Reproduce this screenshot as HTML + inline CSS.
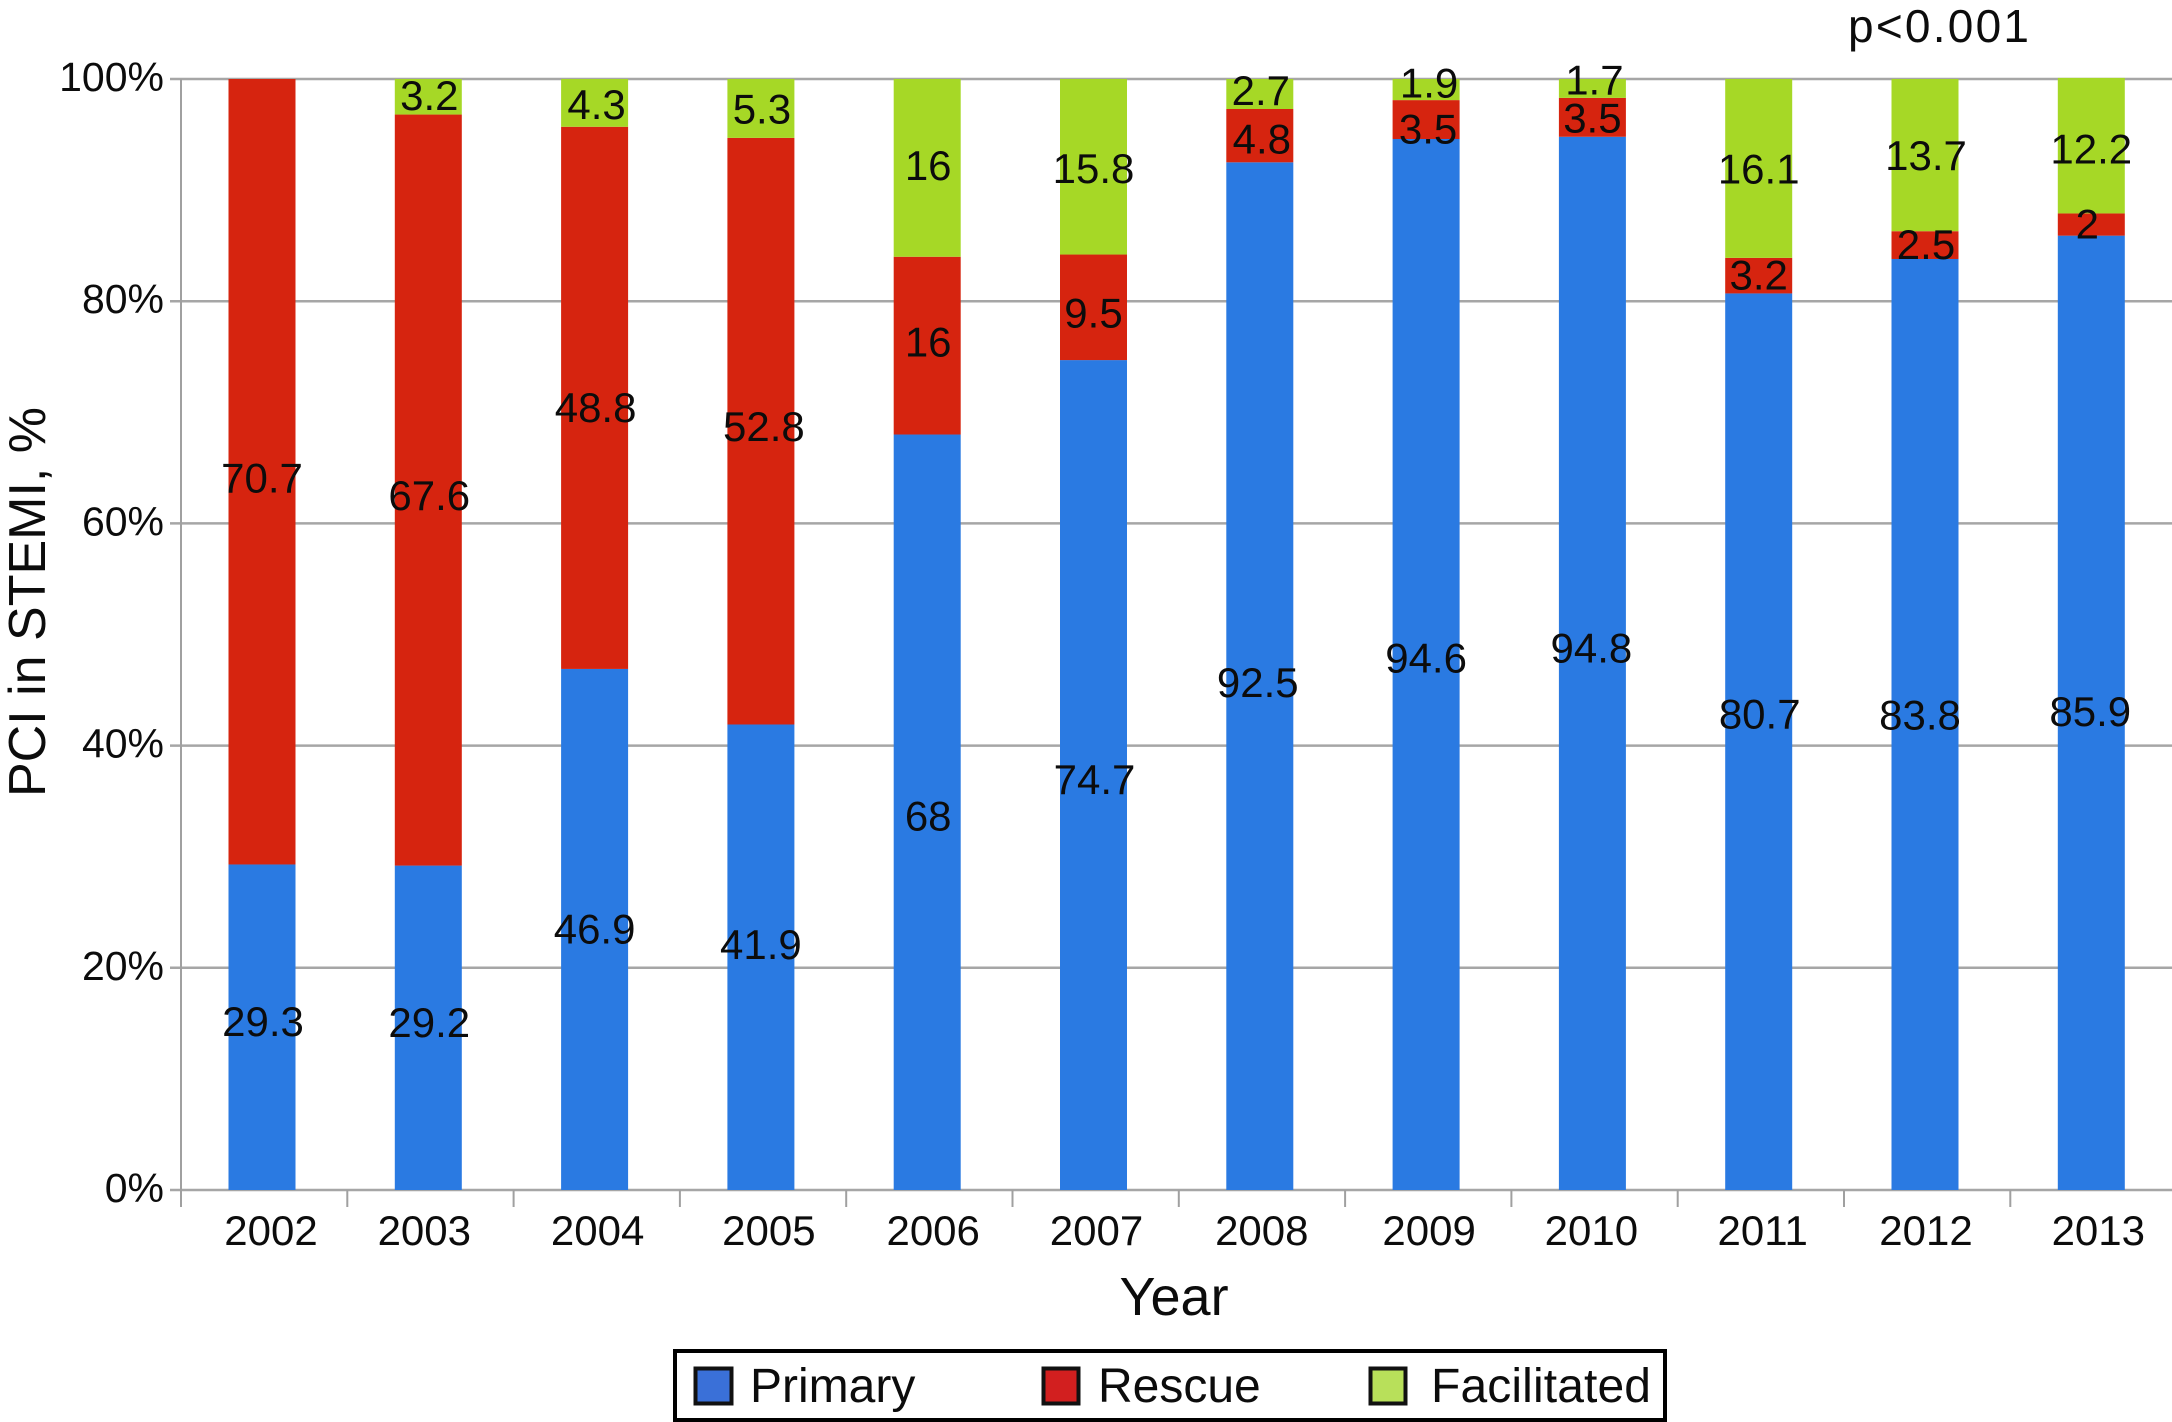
<!DOCTYPE html>
<html lang="en">
<head>
<meta charset="utf-8">
<title>PCI in STEMI by year</title>
<style>
  html, body { margin: 0; padding: 0; background: #fff; }
  svg { display: block; }
  text { font-family: "Liberation Sans", Arial, sans-serif; fill: #0c0c0c; }
</style>
</head>
<body>
<svg id="chart" xmlns="http://www.w3.org/2000/svg" width="2172" height="1422" viewBox="0 0 2172 1422">
  <rect x="0" y="0" width="2172" height="1422" fill="#ffffff"/>
  <g id="grid"></g>
  <g id="axes"></g>
  <g id="bars"></g>
  <g id="labels"></g>

  <text transform="translate(45 602) rotate(-90)" text-anchor="middle" font-size="52">PCI in STEMI, %</text>
  <text x="1174" y="1315" text-anchor="middle" font-size="54">Year</text>
  <text x="1848" y="42" font-size="46" textLength="181" lengthAdjust="spacing">p&lt;0.001</text>

  <g>
    <rect x="675" y="1351" width="990" height="69" fill="#ffffff" stroke="#000000" stroke-width="4"/>
    <rect x="695.5" y="1368.5" width="36" height="35" fill="#3a70d8" stroke="#111111" stroke-width="4"/>
    <text x="750" y="1402" font-size="48">Primary</text>
    <rect x="1043.5" y="1368.5" width="35" height="35" fill="#d21f1f" stroke="#111111" stroke-width="4"/>
    <text x="1098" y="1402" font-size="48">Rescue</text>
    <rect x="1370.5" y="1368.5" width="35" height="35" fill="#b8e05a" stroke="#111111" stroke-width="4"/>
    <text x="1431" y="1402" font-size="48" textLength="220" lengthAdjust="spacing">Facilitated</text>
  </g>
</svg>

<script>
// ---- chart data ----
const categories = ["2002","2003","2004","2005","2006","2007","2008","2009","2010","2011","2012","2013"];
const primaryValues = [29.3,29.2,46.9,41.9,68,74.7,92.5,94.6,94.8,80.7,83.8,85.9];
const rescueValues = [70.7,67.6,48.8,52.8,16,9.5,4.8,3.5,3.5,3.2,2.5,2];
const facilitatedValues = [0,3.2,4.3,5.3,16,15.8,2.7,1.9,1.7,16.1,13.7,12.2];
const yTickValues = [0,20,40,60,80,100];

// ---- layout (not data): hand-placed label offsets seen in the figure ----
const primaryLabelShift = [-5,-5,0,-12,4,5,7,-6,-15,-27,-9,-1];
const rescueLabelShift = [7,6,10,-4,-3,6,4,10,1,0,0,0];
const facilitatedLabelShift = [0,-1,2,1,-2,2,-3,-6,-8,1,1,4];
const primaryLabelShiftX = [1,1,0,0,1,1,-2,0,-1,1,-5,-1];
const rescueLabelShiftX = [0,1,1,3,1,0,2,2,0,0,1,-4];
const facilitatedLabelShiftX = [0,1,2,1,1,0,1,3,2,0,1,0];
const yearLabelShift = [9,-4,3,8,6,3,2,3,-1,4,1,7];

const SVG_NS = "http://www.w3.org/2000/svg";
const plotLeft = 181, plotBottom = 1190, plotTop = 79, plotRight = 2172;
const firstBarCenter = 262, barStep = 166.3, barWidth = 67;

function xCenter(i) { return firstBarCenter + i * barStep; }
function yScale(v) { return plotBottom - (v / 100) * (plotBottom - plotTop); }

function make(tag, props, parent) {
  const el = document.createElementNS(SVG_NS, tag);
  for (const k in props) el.setAttribute(k, props[k]);
  parent.appendChild(el);
  return el;
}

const gridG = document.getElementById("grid");
const axesG = document.getElementById("axes");
const barsG = document.getElementById("bars");
const labelsG = document.getElementById("labels");

// gridlines and y ticks
yTickValues.forEach(function (v) {
  const y = yScale(v);
  const line = make("line", { x1: 170, x2: plotRight, y1: y, y2: y, stroke: "#a6a6a6", "stroke-width": 2.5 }, gridG);
  
  
  const label = make("text", { x: 164, y: y + 12, "text-anchor": "end", "font-size": 41 }, axesG);
  label.textContent = v + "%";
  
  
});

// y axis line
const yAxis = make("line", { x1: plotLeft, x2: plotLeft, y1: plotTop, y2: plotBottom + 17, stroke: "#a0a0a0", "stroke-width": 2 }, axesG);



// x ticks and year labels
categories.forEach(function (c, i) {
  const tickX = plotLeft + (i + 1) * barStep;
  const tick = make("line", { x1: tickX, x2: tickX, y1: plotBottom, y2: plotBottom + 17, stroke: "#a0a0a0", "stroke-width": 2 }, axesG);
  
  
  const label = make("text", { x: xCenter(i) + yearLabelShift[i], y: 1245, "text-anchor": "middle", "font-size": 42 }, axesG);
  label.textContent = c;
  
  
});

// stacked bars and value labels
const seriesNames = ["primary", "rescue", "facilitated"];
const seriesValues = [primaryValues, rescueValues, facilitatedValues];
const seriesColors = ["#2a7ae2", "#d6240f", "#a6d826"];
const seriesShifts = [primaryLabelShift, rescueLabelShift, facilitatedLabelShift];
const seriesShiftsX = [primaryLabelShiftX, rescueLabelShiftX, facilitatedLabelShiftX];

categories.forEach(function (c, i) {
  let base = 0;
  seriesNames.forEach(function (name, s) {
    const v = seriesValues[s][i];
    if (v <= 0) return;
    const yTop = yScale(base + v);
    const yBot = yScale(base);
    const rect = make("rect", { x: xCenter(i) - barWidth / 2, y: yTop, width: barWidth, height: yBot - yTop, fill: seriesColors[s] }, barsG);
    
    
    const label = make("text", { x: xCenter(i) + seriesShiftsX[s][i], y: (yTop + yBot) / 2 + 14 + seriesShifts[s][i], "text-anchor": "middle", "font-size": 42 }, labelsG);
    label.textContent = String(v);
    
    
    base += v;
  });
});
</script>
</body>
</html>
